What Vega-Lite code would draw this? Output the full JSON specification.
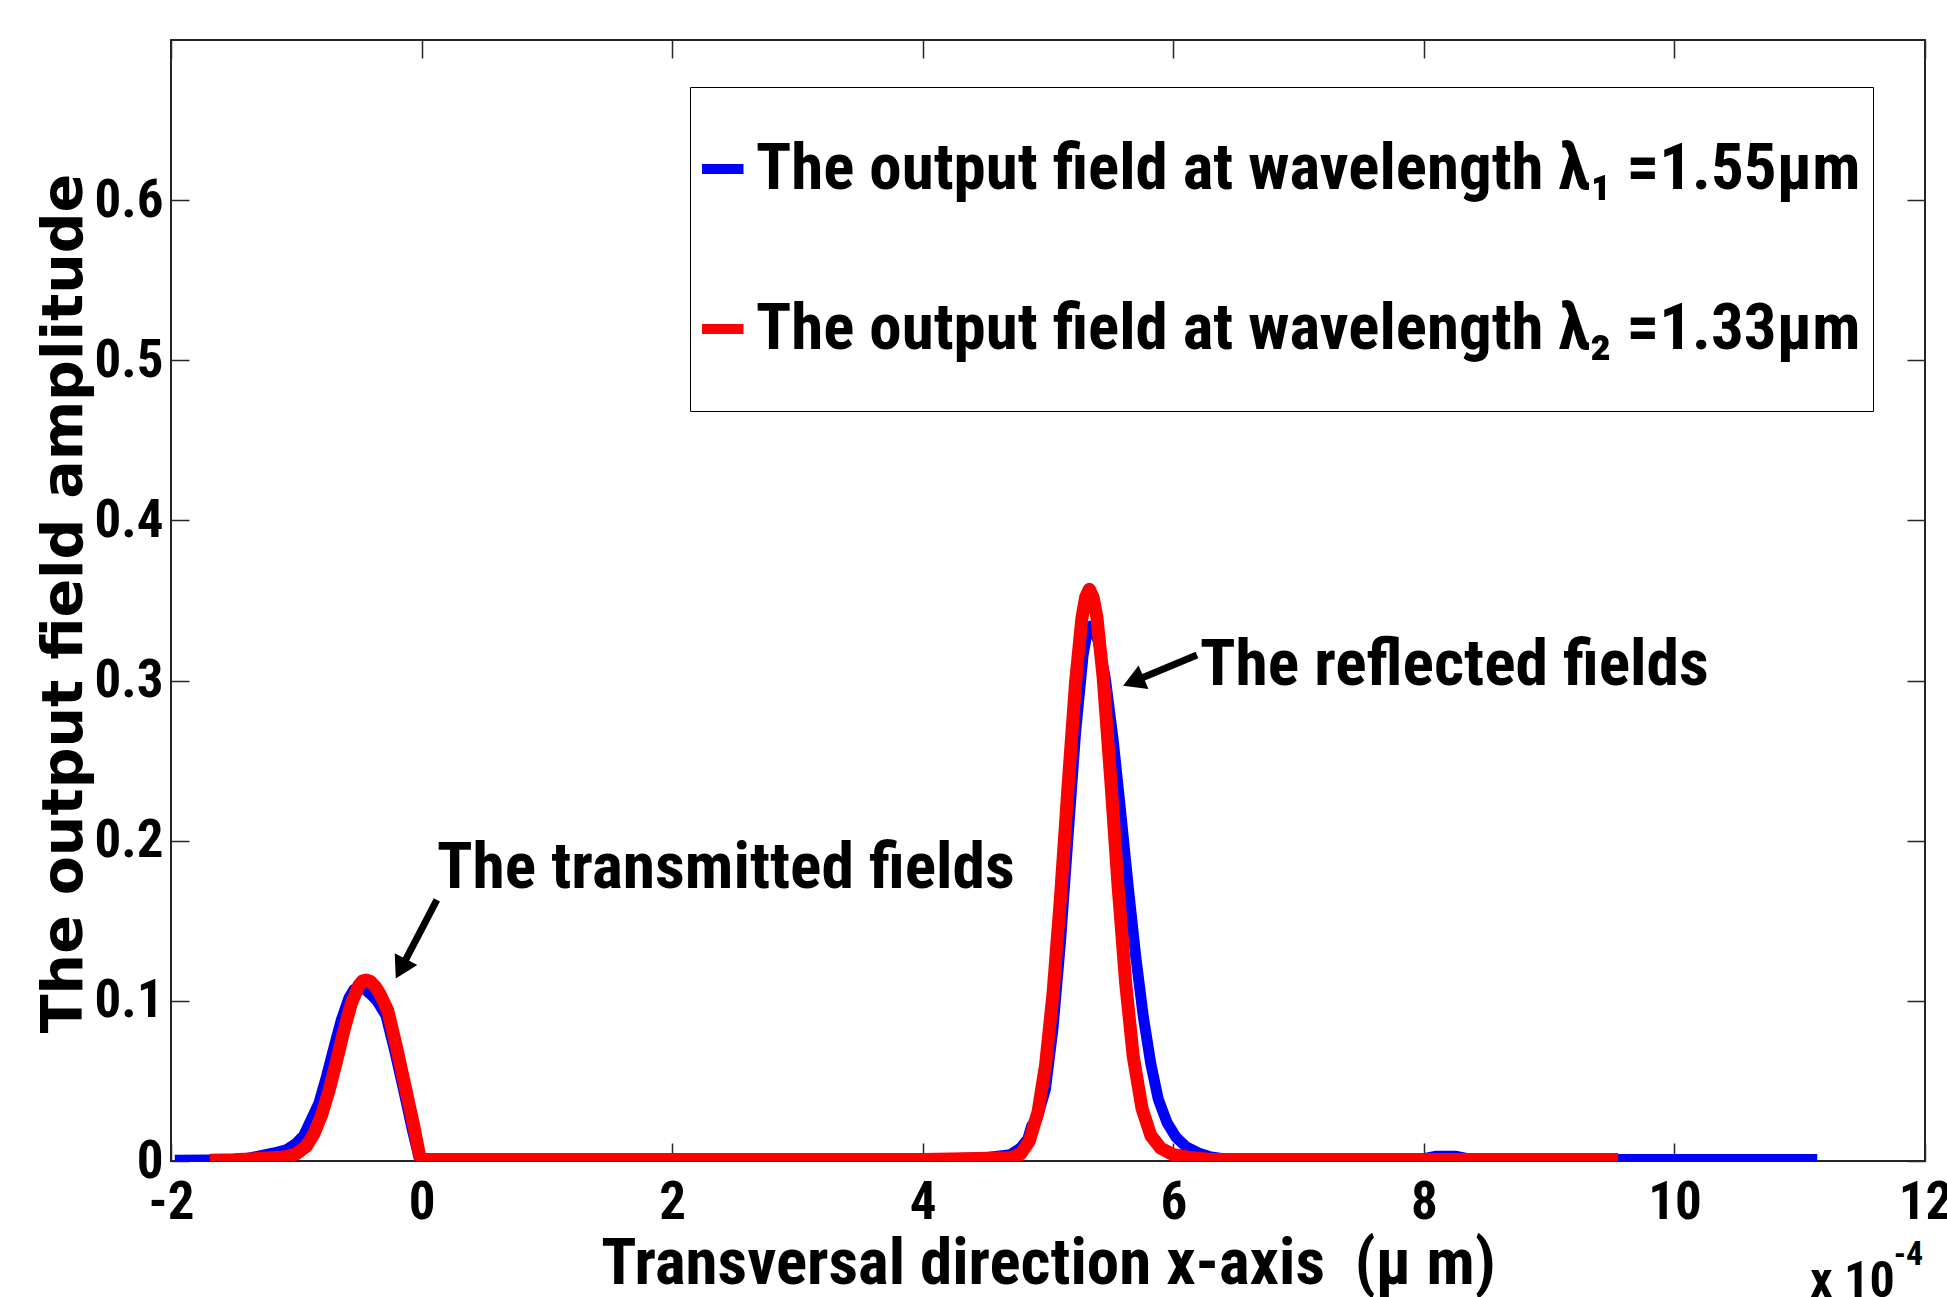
{
  "$schema": "https://vega.github.io/schema/vega-lite/v6.json",
  "width": 1754,
  "height": 1121,
  "autosize": {"type": "none"},
  "padding": {"left": 171, "top": 40, "right": 22, "bottom": 136},
  "background": "white",
  "config": {
    "view": {"stroke": "#262626", "strokeWidth": 2},
    "axis": {"grid": false, "domain": false, "tickColor": "#262626", "tickWidth": 1.5, "tickSize": -18, "labelColor": "black", "labelFont": "Roboto Condensed, Noto Sans Condensed, Roboto, sans-serif", "labelFontWeight": "bold", "labelFontSize": 53}
  },
  "datasets": {
    "curves": [
      {"series": "The output field at wavelength λ₁ =1.55µm", "x": -1.97, "y": 0.0005},
      {"series": "The output field at wavelength λ₁ =1.55µm", "x": -1.7, "y": 0.0006},
      {"series": "The output field at wavelength λ₁ =1.55µm", "x": -1.5, "y": 0.001},
      {"series": "The output field at wavelength λ₁ =1.55µm", "x": -1.4, "y": 0.0015},
      {"series": "The output field at wavelength λ₁ =1.55µm", "x": -1.3, "y": 0.003},
      {"series": "The output field at wavelength λ₁ =1.55µm", "x": -1.18, "y": 0.005},
      {"series": "The output field at wavelength λ₁ =1.55µm", "x": -1.08, "y": 0.007},
      {"series": "The output field at wavelength λ₁ =1.55µm", "x": -1.0, "y": 0.011},
      {"series": "The output field at wavelength λ₁ =1.55µm", "x": -0.94, "y": 0.016},
      {"series": "The output field at wavelength λ₁ =1.55µm", "x": -0.88, "y": 0.026},
      {"series": "The output field at wavelength λ₁ =1.55µm", "x": -0.82, "y": 0.036},
      {"series": "The output field at wavelength λ₁ =1.55µm", "x": -0.76, "y": 0.0525},
      {"series": "The output field at wavelength λ₁ =1.55µm", "x": -0.7, "y": 0.0707},
      {"series": "The output field at wavelength λ₁ =1.55µm", "x": -0.64, "y": 0.0882},
      {"series": "The output field at wavelength λ₁ =1.55µm", "x": -0.58, "y": 0.1017},
      {"series": "The output field at wavelength λ₁ =1.55µm", "x": -0.54, "y": 0.107},
      {"series": "The output field at wavelength λ₁ =1.55µm", "x": -0.5, "y": 0.109},
      {"series": "The output field at wavelength λ₁ =1.55µm", "x": -0.45, "y": 0.107},
      {"series": "The output field at wavelength λ₁ =1.55µm", "x": -0.405, "y": 0.104},
      {"series": "The output field at wavelength λ₁ =1.55µm", "x": -0.355, "y": 0.1},
      {"series": "The output field at wavelength λ₁ =1.55µm", "x": -0.285, "y": 0.091},
      {"series": "The output field at wavelength λ₁ =1.55µm", "x": -0.215, "y": 0.069},
      {"series": "The output field at wavelength λ₁ =1.55µm", "x": -0.145, "y": 0.045},
      {"series": "The output field at wavelength λ₁ =1.55µm", "x": -0.075, "y": 0.02},
      {"series": "The output field at wavelength λ₁ =1.55µm", "x": -0.02, "y": 0.002},
      {"series": "The output field at wavelength λ₁ =1.55µm", "x": 0.0, "y": 0.001},
      {"series": "The output field at wavelength λ₁ =1.55µm", "x": 1.0, "y": 0.001},
      {"series": "The output field at wavelength λ₁ =1.55µm", "x": 2.0, "y": 0.001},
      {"series": "The output field at wavelength λ₁ =1.55µm", "x": 3.0, "y": 0.001},
      {"series": "The output field at wavelength λ₁ =1.55µm", "x": 4.0, "y": 0.001},
      {"series": "The output field at wavelength λ₁ =1.55µm", "x": 4.5, "y": 0.002},
      {"series": "The output field at wavelength λ₁ =1.55µm", "x": 4.7, "y": 0.004},
      {"series": "The output field at wavelength λ₁ =1.55µm", "x": 4.78, "y": 0.008},
      {"series": "The output field at wavelength λ₁ =1.55µm", "x": 4.84, "y": 0.014},
      {"series": "The output field at wavelength λ₁ =1.55µm", "x": 4.87, "y": 0.022},
      {"series": "The output field at wavelength λ₁ =1.55µm", "x": 4.91, "y": 0.026},
      {"series": "The output field at wavelength λ₁ =1.55µm", "x": 4.98, "y": 0.045},
      {"series": "The output field at wavelength λ₁ =1.55µm", "x": 5.04, "y": 0.083},
      {"series": "The output field at wavelength λ₁ =1.55µm", "x": 5.1, "y": 0.137},
      {"series": "The output field at wavelength λ₁ =1.55µm", "x": 5.16, "y": 0.2026},
      {"series": "The output field at wavelength λ₁ =1.55µm", "x": 5.22, "y": 0.2674},
      {"series": "The output field at wavelength λ₁ =1.55µm", "x": 5.28, "y": 0.316},
      {"series": "The output field at wavelength λ₁ =1.55µm", "x": 5.31, "y": 0.329},
      {"series": "The output field at wavelength λ₁ =1.55µm", "x": 5.34, "y": 0.334},
      {"series": "The output field at wavelength λ₁ =1.55µm", "x": 5.37, "y": 0.331},
      {"series": "The output field at wavelength λ₁ =1.55µm", "x": 5.4, "y": 0.325},
      {"series": "The output field at wavelength λ₁ =1.55µm", "x": 5.46, "y": 0.3},
      {"series": "The output field at wavelength λ₁ =1.55µm", "x": 5.52, "y": 0.263},
      {"series": "The output field at wavelength λ₁ =1.55µm", "x": 5.58, "y": 0.218},
      {"series": "The output field at wavelength λ₁ =1.55µm", "x": 5.64, "y": 0.1716},
      {"series": "The output field at wavelength λ₁ =1.55µm", "x": 5.7, "y": 0.128},
      {"series": "The output field at wavelength λ₁ =1.55µm", "x": 5.76, "y": 0.0906},
      {"series": "The output field at wavelength λ₁ =1.55µm", "x": 5.82, "y": 0.061},
      {"series": "The output field at wavelength λ₁ =1.55µm", "x": 5.88, "y": 0.0386},
      {"series": "The output field at wavelength λ₁ =1.55µm", "x": 5.95, "y": 0.024},
      {"series": "The output field at wavelength λ₁ =1.55µm", "x": 6.02, "y": 0.015},
      {"series": "The output field at wavelength λ₁ =1.55µm", "x": 6.1, "y": 0.009},
      {"series": "The output field at wavelength λ₁ =1.55µm", "x": 6.2, "y": 0.005},
      {"series": "The output field at wavelength λ₁ =1.55µm", "x": 6.3, "y": 0.0025},
      {"series": "The output field at wavelength λ₁ =1.55µm", "x": 6.4, "y": 0.0015},
      {"series": "The output field at wavelength λ₁ =1.55µm", "x": 6.6, "y": 0.001},
      {"series": "The output field at wavelength λ₁ =1.55µm", "x": 7.0, "y": 0.001},
      {"series": "The output field at wavelength λ₁ =1.55µm", "x": 7.5, "y": 0.001},
      {"series": "The output field at wavelength λ₁ =1.55µm", "x": 8.0, "y": 0.0015},
      {"series": "The output field at wavelength λ₁ =1.55µm", "x": 8.1, "y": 0.003},
      {"series": "The output field at wavelength λ₁ =1.55µm", "x": 8.25, "y": 0.003},
      {"series": "The output field at wavelength λ₁ =1.55µm", "x": 8.35, "y": 0.0015},
      {"series": "The output field at wavelength λ₁ =1.55µm", "x": 8.5, "y": 0.001},
      {"series": "The output field at wavelength λ₁ =1.55µm", "x": 9.0, "y": 0.001},
      {"series": "The output field at wavelength λ₁ =1.55µm", "x": 10.0, "y": 0.001},
      {"series": "The output field at wavelength λ₁ =1.55µm", "x": 11.14, "y": 0.001},
      {"series": "The output field at wavelength λ₂ =1.33µm", "x": -1.69, "y": 0.0005},
      {"series": "The output field at wavelength λ₂ =1.33µm", "x": -1.5, "y": 0.0008},
      {"series": "The output field at wavelength λ₂ =1.33µm", "x": -1.3, "y": 0.0015},
      {"series": "The output field at wavelength λ₂ =1.33µm", "x": -1.2, "y": 0.002},
      {"series": "The output field at wavelength λ₂ =1.33µm", "x": -1.1, "y": 0.0025},
      {"series": "The output field at wavelength λ₂ =1.33µm", "x": -1.0, "y": 0.0045},
      {"series": "The output field at wavelength λ₂ =1.33µm", "x": -0.92, "y": 0.0092},
      {"series": "The output field at wavelength λ₂ =1.33µm", "x": -0.86, "y": 0.0168},
      {"series": "The output field at wavelength λ₂ =1.33µm", "x": -0.8, "y": 0.0282},
      {"series": "The output field at wavelength λ₂ =1.33µm", "x": -0.74, "y": 0.0436},
      {"series": "The output field at wavelength λ₂ =1.33µm", "x": -0.68, "y": 0.062},
      {"series": "The output field at wavelength λ₂ =1.33µm", "x": -0.62, "y": 0.0814},
      {"series": "The output field at wavelength λ₂ =1.33µm", "x": -0.56, "y": 0.0985},
      {"series": "The output field at wavelength λ₂ =1.33µm", "x": -0.5, "y": 0.1098},
      {"series": "The output field at wavelength λ₂ =1.33µm", "x": -0.47, "y": 0.1125},
      {"series": "The output field at wavelength λ₂ =1.33µm", "x": -0.44, "y": 0.113},
      {"series": "The output field at wavelength λ₂ =1.33µm", "x": -0.41, "y": 0.1122},
      {"series": "The output field at wavelength λ₂ =1.33µm", "x": -0.37, "y": 0.109},
      {"series": "The output field at wavelength λ₂ =1.33µm", "x": -0.33, "y": 0.104},
      {"series": "The output field at wavelength λ₂ =1.33µm", "x": -0.27, "y": 0.094},
      {"series": "The output field at wavelength λ₂ =1.33µm", "x": -0.2, "y": 0.071},
      {"series": "The output field at wavelength λ₂ =1.33µm", "x": -0.13, "y": 0.046},
      {"series": "The output field at wavelength λ₂ =1.33µm", "x": -0.06, "y": 0.021},
      {"series": "The output field at wavelength λ₂ =1.33µm", "x": -0.015, "y": 0.003},
      {"series": "The output field at wavelength λ₂ =1.33µm", "x": 0.0, "y": 0.001},
      {"series": "The output field at wavelength λ₂ =1.33µm", "x": 1.0, "y": 0.001},
      {"series": "The output field at wavelength λ₂ =1.33µm", "x": 2.0, "y": 0.001},
      {"series": "The output field at wavelength λ₂ =1.33µm", "x": 3.0, "y": 0.001},
      {"series": "The output field at wavelength λ₂ =1.33µm", "x": 4.0, "y": 0.001},
      {"series": "The output field at wavelength λ₂ =1.33µm", "x": 4.45, "y": 0.0015},
      {"series": "The output field at wavelength λ₂ =1.33µm", "x": 4.7, "y": 0.002},
      {"series": "The output field at wavelength λ₂ =1.33µm", "x": 4.78, "y": 0.0043},
      {"series": "The output field at wavelength λ₂ =1.33µm", "x": 4.85, "y": 0.0123},
      {"series": "The output field at wavelength λ₂ =1.33µm", "x": 4.92, "y": 0.0306},
      {"series": "The output field at wavelength λ₂ =1.33µm", "x": 4.98, "y": 0.0596},
      {"series": "The output field at wavelength λ₂ =1.33µm", "x": 5.04, "y": 0.1045},
      {"series": "The output field at wavelength λ₂ =1.33µm", "x": 5.1, "y": 0.1648},
      {"series": "The output field at wavelength λ₂ =1.33µm", "x": 5.16, "y": 0.234},
      {"series": "The output field at wavelength λ₂ =1.33µm", "x": 5.22, "y": 0.299},
      {"series": "The output field at wavelength λ₂ =1.33µm", "x": 5.27, "y": 0.3387},
      {"series": "The output field at wavelength λ₂ =1.33µm", "x": 5.3, "y": 0.352},
      {"series": "The output field at wavelength λ₂ =1.33µm", "x": 5.33, "y": 0.357},
      {"series": "The output field at wavelength λ₂ =1.33µm", "x": 5.36, "y": 0.352},
      {"series": "The output field at wavelength λ₂ =1.33µm", "x": 5.39, "y": 0.3397},
      {"series": "The output field at wavelength λ₂ =1.33µm", "x": 5.44, "y": 0.302},
      {"series": "The output field at wavelength λ₂ =1.33µm", "x": 5.5, "y": 0.239},
      {"series": "The output field at wavelength λ₂ =1.33µm", "x": 5.56, "y": 0.171},
      {"series": "The output field at wavelength λ₂ =1.33µm", "x": 5.62, "y": 0.111},
      {"series": "The output field at wavelength λ₂ =1.33µm", "x": 5.68, "y": 0.0655},
      {"series": "The output field at wavelength λ₂ =1.33µm", "x": 5.75, "y": 0.033},
      {"series": "The output field at wavelength λ₂ =1.33µm", "x": 5.82, "y": 0.016},
      {"series": "The output field at wavelength λ₂ =1.33µm", "x": 5.9, "y": 0.008},
      {"series": "The output field at wavelength λ₂ =1.33µm", "x": 6.0, "y": 0.004},
      {"series": "The output field at wavelength λ₂ =1.33µm", "x": 6.15, "y": 0.002},
      {"series": "The output field at wavelength λ₂ =1.33µm", "x": 6.3, "y": 0.001},
      {"series": "The output field at wavelength λ₂ =1.33µm", "x": 7.0, "y": 0.001},
      {"series": "The output field at wavelength λ₂ =1.33µm", "x": 8.0, "y": 0.001},
      {"series": "The output field at wavelength λ₂ =1.33µm", "x": 9.0, "y": 0.001},
      {"series": "The output field at wavelength λ₂ =1.33µm", "x": 9.55, "y": 0.001}
    ],
    "notes": [
      {"x": 0.123, "y": 0.1705, "label": "The transmitted fields"},
      {"x": 6.213, "y": 0.2972, "label": "The reflected fields"}
    ],
    "arrows": [
      {"name": "transmitted", "x": 0.122, "y": 0.163, "x2": -0.165, "y2": 0.12},
      {"name": "reflected", "x": 6.189, "y": 0.316, "x2": 5.681, "y2": 0.2994}
    ]
  },
  "layer": [
    {
      "data": {"name": "curves"},
      "transform": [{"filter": "datum.series === 'The output field at wavelength λ₁ =1.55µm'"}],
      "mark": {"type": "line", "strokeWidth": 11, "strokeJoin": "round", "clip": true},
      "encoding": {
        "x": {"field": "x", "type": "quantitative", "scale": {"domain": [-2, 12], "nice": false, "zero": false},
          "axis": {"orient": "bottom", "values": [-2, 0, 2, 4, 6, 8, 10, 12], "labelExpr": "'' + datum.value", "labelPadding": 33,
            "title": "Transversal direction x-axis\u00a0 (µ m)", "titleFont": "Roboto Condensed, Noto Sans Condensed, Roboto, sans-serif", "titleFontSize": 65, "titleFontWeight": "bold", "titleColor": "black",
            "titleX": 877, "titleY": 122, "titleBaseline": "alphabetic", "titleAlign": "center", "labelFlush": false, "labelOverlap": false}},
        "y": {"field": "y", "type": "quantitative", "scale": {"domain": [0, 0.7], "nice": false, "zero": false},
          "axis": {"orient": "left", "values": [0, 0.1, 0.2, 0.3, 0.4, 0.5, 0.6], "labelExpr": "datum.value === 0 ? '0' : format(datum.value, '.1f')", "labelPadding": 26,
            "title": "The output field amplitude", "titleFont": "DejaVu Sans", "titleFontSize": 57, "titleFontWeight": "bold", "titleColor": "black",
            "titleAngle": 270, "titleX": -90, "titleY": 563, "titleBaseline": "alphabetic", "titleAlign": "center", "labelOverlap": false}},
        "color": {"field": "series", "type": "nominal",
          "scale": {"domain": ["The output field at wavelength λ₁ =1.55µm", "The output field at wavelength λ₂ =1.33µm"], "range": ["#0000ff", "#ff0000"]},
          "legend": {"orient": "none", "legendX": 519, "legendY": 47, "title": null,
            "labelFont": "Roboto Condensed, Noto Sans Condensed, Roboto, sans-serif", "labelFontSize": 65, "labelFontWeight": "bold", "labelColor": "black", "labelLimit": 3000, "labelOffset": 2,
            "symbolType": "stroke", "symbolSize": 1936, "symbolStrokeWidth": 10, "symbolOffset": -13,
            "clipHeight": 140, "rowPadding": 20, "padding": 12,
            "strokeColor": "black", "fillColor": "white"}}
      }
    },
    {
      "data": {"name": "curves"},
      "transform": [{"filter": "datum.series === 'The output field at wavelength λ₂ =1.33µm'"}],
      "mark": {"type": "line", "strokeWidth": 13, "strokeJoin": "round", "clip": true},
      "encoding": {
        "x": {"field": "x", "type": "quantitative", "axis": null},
        "y": {"field": "y", "type": "quantitative", "axis": null},
        "color": {"field": "series", "type": "nominal"}
      }
    },
    {
      "data": {"name": "notes"},
      "mark": {"type": "text", "align": "left", "baseline": "alphabetic", "font": "Roboto Condensed, Noto Sans Condensed, Roboto, sans-serif", "fontSize": 65.5, "fontWeight": "bold", "color": "black"},
      "encoding": {
        "x": {"field": "x", "type": "quantitative", "axis": {"orient": "top", "values": [-2, 0, 2, 4, 6, 8, 10, 12], "labels": false, "title": null}},
        "y": {"field": "y", "type": "quantitative", "axis": {"orient": "right", "values": [0, 0.1, 0.2, 0.3, 0.4, 0.5, 0.6], "labels": false, "title": null}},
        "text": {"field": "label"}
      }
    },
    {
      "data": {"name": "arrows"},
      "mark": {"type": "rule", "strokeWidth": 7, "color": "black"},
      "encoding": {
        "x": {"field": "x", "type": "quantitative", "axis": null},
        "y": {"field": "y", "type": "quantitative", "axis": null},
        "x2": {"field": "x2"},
        "y2": {"field": "y2"}
      }
    },
    {
      "data": {"name": "arrows"},
      "transform": [{"filter": "datum.name === 'transmitted'"}],
      "mark": {"type": "point", "shape": "triangle-up", "filled": true, "color": "black", "opacity": 1, "size": 650, "angle": 207.6},
      "encoding": {
        "x": {"field": "x2", "type": "quantitative", "axis": null},
        "y": {"field": "y2", "type": "quantitative", "axis": null}
      }
    },
    {
      "data": {"name": "arrows"},
      "transform": [{"filter": "datum.name === 'reflected'"}],
      "mark": {"type": "point", "shape": "triangle-up", "filled": true, "color": "black", "opacity": 1, "size": 650, "angle": 247.4},
      "encoding": {
        "x": {"field": "x2", "type": "quantitative", "axis": null},
        "y": {"field": "y2", "type": "quantitative", "axis": null}
      }
    },
    {
      "data": {"values": [{"x": 11.082, "y": -0.0849, "label": "x 10"}]},
      "mark": {"type": "text", "align": "left", "baseline": "alphabetic", "font": "Roboto Condensed, Noto Sans Condensed, Roboto, sans-serif", "fontSize": 50, "fontWeight": "bold", "color": "black"},
      "encoding": {
        "x": {"field": "x", "type": "quantitative", "axis": null},
        "y": {"field": "y", "type": "quantitative", "axis": null},
        "text": {"field": "label"}
      }
    },
    {
      "data": {"values": [{"x": 11.75, "y": -0.065, "label": "-4"}]},
      "mark": {"type": "text", "align": "left", "baseline": "alphabetic", "font": "Roboto Condensed, Noto Sans Condensed, Roboto, sans-serif", "fontSize": 34, "fontWeight": "bold", "color": "black"},
      "encoding": {
        "x": {"field": "x", "type": "quantitative", "axis": null},
        "y": {"field": "y", "type": "quantitative", "axis": null},
        "text": {"field": "label"}
      }
    }
  ],
  "resolve": {"axis": {"x": "independent", "y": "independent"}}
}
